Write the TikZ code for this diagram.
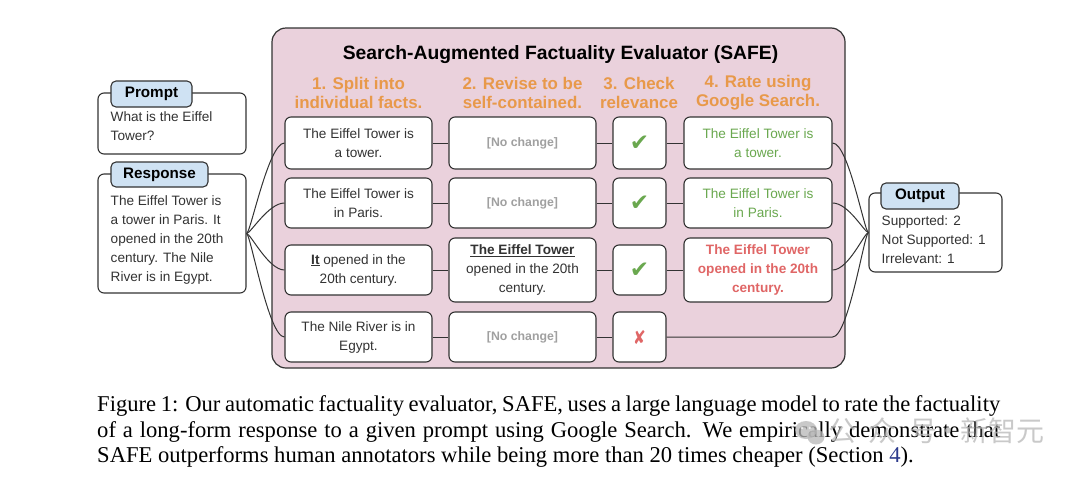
\documentclass[tikz,border=0pt]{standalone}
\usepackage{fontspec}
\setmainfont{Liberation Sans}
\newfontfamily\capfont{Liberation Serif}
\newfontfamily\symfont{DejaVu Sans}
\newfontfamily\cjkfont{Noto Sans CJK SC}
\definecolor{bord}{HTML}{333333}
\definecolor{txt}{HTML}{333333}
\definecolor{pinkbg}{HTML}{EAD1DC}
\definecolor{tabblue}{HTML}{CFE2F3}
\definecolor{orangeh}{HTML}{E8994A}
\definecolor{okgreen}{HTML}{6AA84F}
\definecolor{badred}{HTML}{E06666}
\definecolor{nochg}{HTML}{A0A0A0}
\definecolor{linkblue}{HTML}{2B3A8C}
\definecolor{wmgray}{HTML}{B8B8B8}
\newcommand\fsBody{\fontsize{13.6}{19}\selectfont}
\newcommand\fsHead{\fontsize{16.9}{18.5}\selectfont}
\newcommand\fsTitle{\fontsize{19.3}{21}\selectfont}
\newcommand\fsTab{\fontsize{15.2}{17}\selectfont}
\newcommand\fsNoCh{\fontsize{12.3}{14}\selectfont}
\newcommand\fsCap{\fontsize{22.6}{24.5}\selectfont}
\begin{document}
\begin{tikzpicture}[x=1pt,y=-1pt,
  box/.style={draw=bord, line width=1.1pt, fill=white, rounded corners=6pt, inner sep=0pt, align=center, text=txt, font=\fsBody},
  tabbox/.style={draw=bord, line width=1.1pt, fill=tabblue, rounded corners=5pt, inner sep=0pt, font=\fsTab\bfseries, text=black},
  conn/.style={draw=bord, line width=1pt},
  head/.style={text=orangeh, font=\fsHead\bfseries, align=center, inner sep=0pt},
  plain/.style={anchor=west, align=left, inner sep=0pt, font=\fsBody, text=txt},
  c1/.style={box, minimum width=147pt},
  c2/.style={box, minimum width=147pt},
  c3/.style={box, minimum width=53pt},
  c4/.style={box, minimum width=148pt},
  nochange/.style={text=nochg, font=\fsNoCh\bfseries},
  tickmark/.style={font=\symfont\fontsize{23}{23}\selectfont},
]
\useasboundingbox (0,0) rectangle (1080,485);
\fill[white] (0,0) rectangle (1080,485);

% SAFE container
\node[draw=bord, line width=1.2pt, fill=pinkbg, rounded corners=14pt, minimum width=573pt, minimum height=340pt, inner sep=0pt] (safe) at (558.5,198) {};
\node[font=\fsTitle\bfseries, text=black, inner sep=0pt] (title) at (560.5,55) {Search-Augmented Factuality Evaluator (SAFE)};
\node[head] (h1) at (358.5,92.8) {1. Split into\\individual facts.};
\node[head] (h2) at (522.5,92.8) {2. Revise to be\\self-contained.};
\node[head] (h3) at (639,92.8) {3. Check\\relevance};
\node[head] (h4) at (758,92.8) {4. Rate using\\Google Search.};

% Row 1
\node[c1, minimum height=52pt] (f1) at (358.5,143) {The Eiffel Tower is\\a tower.};
\node[c2, minimum height=52pt, nochange] (r1) at (522.5,143) {[No change]};
\node[c3, minimum height=52pt, tickmark, text=okgreen] (k1) at (639.5,143) {✔};
\node[c4, minimum height=52pt, text=okgreen] (g1) at (758,143) {The Eiffel Tower is\\a tower.};
% Row 2
\node[c1, minimum height=50pt] (f2) at (358.5,203) {The Eiffel Tower is\\in Paris.};
\node[c2, minimum height=50pt, nochange] (r2) at (522.5,203) {[No change]};
\node[c3, minimum height=50pt, tickmark, text=okgreen] (k2) at (639.5,203) {✔};
\node[c4, minimum height=50pt, text=okgreen] (g2) at (758,203) {The Eiffel Tower is\\in Paris.};
% Row 3
\node[c1, minimum height=50pt] (f3) at (358.5,270) {\underline{\textbf{It}} opened in the\\20th century.};
\node[c2, minimum height=64pt, font=\fontsize{13.6}{18.6}\selectfont] (r3) at (522.5,270) {\underline{\textbf{The Eiffel Tower}}\\opened in the 20th\\century.};
\node[c3, minimum height=50pt, tickmark, text=okgreen] (k3) at (639.5,270) {✔};
\node[c4, minimum height=64pt, text=badred, font=\fontsize{13.6}{18.6}\selectfont\bfseries] (g3) at (758,270) {The Eiffel Tower\\opened in the 20th\\century.};
% Row 4
\node[c1, minimum height=50pt] (f4) at (358.5,337) {The Nile River is in\\Egypt.};
\node[c2, minimum height=50pt, nochange] (r4) at (522.5,337) {[No change]};
\node[c3, minimum height=50pt, text=badred, font=\symfont\fontsize{19}{19}\selectfont] (k4) at (639.5,337) {\scalebox{0.8}[1]{✘}};

% Prompt
\node[box, minimum width=148pt, minimum height=61pt] (prompt) at (172,123.5) {};
\node[tabbox, minimum width=81pt, minimum height=26pt] (ptab) at (151.5,94) {Prompt};
\node[plain] (ptext) at (110.5,126) {What is the Eiffel\\Tower?};
% Response
\node[box, minimum width=148pt, minimum height=119pt] (resp) at (172,233.5) {};
\node[tabbox, minimum width=97pt, minimum height=25pt] (rtab) at (159.5,174.5) {Response};
\node[plain] (rtext) at (110.5,240) {The Eiffel Tower is\\a tower in Paris. It\\opened in the 20th\\century. The Nile\\River is in Egypt.};
% Output
\node[box, minimum width=133pt, minimum height=79pt] (out) at (935.5,232.5) {};
\node[tabbox, minimum width=78pt, minimum height=26pt] (otab) at (920,196) {Output};
\node[plain] (otext) at (881.5,239.5) {Supported: 2\\Not Supported: 1\\Irrelevant: 1};

% connectors
\foreach \f in {f1,f2,f3,f4} \draw[conn] (resp.east) .. controls +(4,0) and +(-16,0) .. (\f.west);
\foreach \a/\b in {f1/r1,r1/k1,k1/g1,f2/r2,r2/k2,k2/g2,f3/r3,r3/k3,k3/g3,f4/r4,r4/k4} \draw[conn] (\a.east) -- (\b.west);
\foreach \g in {g1,g2,g3} \draw[conn] (\g.east) .. controls +(16,0) and +(-4,0) .. (out.west);
\draw[conn] (k4.east) -- (k4.east -| g3.east) .. controls +(16,0) and +(-4,0) .. (out.west);

% caption
\node[font=\capfont\fsCap, anchor=base west, inner sep=0pt] (cap1) at (97,411) {\makebox[903pt][s]{Figure 1: Our automatic factuality evaluator, SAFE, uses a large language model to rate the factuality}};
\node[font=\capfont\fsCap, anchor=base west, inner sep=0pt] (cap2) at (97,437) {\makebox[903pt][s]{of a long-form response to a given prompt using Google Search. We empirically demonstrate that}};
\node[font=\capfont\fsCap, anchor=base west, inner sep=0pt] (cap3) at (97,462) {SAFE outperforms human annotators while being more than 20 times cheaper (Section \textcolor{linkblue}{4}).};

% watermark
\begin{scope}[opacity=0.75]
\fill[wmgray] (806,430) ellipse (11 and 9);
\fill[wmgray] (816,437) ellipse (8.5 and 7.5);
\fill[white] (802,428) circle (1.4);
\fill[white] (810,428) circle (1.4);
\node[font=\cjkfont\fontsize{28}{28}\selectfont, text=wmgray, anchor=west, inner sep=0pt] (wm) at (828,431) {\makebox[109pt][s]{公\hfil 众\hfil 号}\makebox[23pt]{·}\makebox[84pt][s]{新\hfil 智\hfil 元}};
\end{scope}
\end{tikzpicture}
\end{document}
